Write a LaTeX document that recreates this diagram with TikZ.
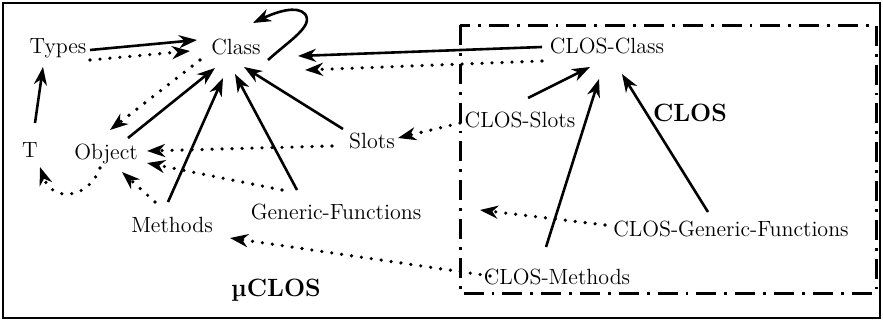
\documentclass[tikz,border=0pt]{standalone}
\usetikzlibrary{arrows.meta,calc}
\begin{document}
\begin{tikzpicture}[x=0.5pt,y=-0.5pt,
  lbl/.style={inner sep=1pt,font=\fontsize{11}{13}\selectfont},
  big/.style={inner sep=1pt,font=\fontsize{12.5}{15}\selectfont\bfseries},
  tip/.style={-{Stealth[length=9pt,width=6.5pt,inset=2.8pt]}},
  solidarr/.style={tip,line width=1.3pt},
  dotarr/.style={tip,line width=1.8pt,line cap=round,dash pattern=on 0pt off 5pt},
  frame/.style={line width=0.8pt},
  clsbox/.style={line width=1.5pt,dash pattern=on 10pt off 4pt on 1.4pt off 4pt}]
\useasboundingbox (0,0) rectangle (883,321);
\draw[frame] (3,3) rectangle (880,318);
\draw[clsbox] (460,25) rectangle (876,293);
% nodes
\node[lbl] (types) at (58,48) {Types};
\node[lbl] (class) at (236,47) {Class};
\node[lbl] (t) at (30,150) {T};
\node[lbl] (object) at (106,154) {Object};
\node[lbl] (methods) at (172,225) {Methods};
\node[lbl] (generic) at (336,212) {Generic-Functions};
\node[lbl] (slots) at (372,141) {Slots};
\node[lbl] (closslots) at (520,120) {CLOS-Slots};
\node[lbl] (closclass) at (607,46) {CLOS-Class};
\node[big] (clos) at (690,113) {CLOS};
\node[lbl] (closgeneric) at (731,229) {CLOS-Generic-Functions};
\node[lbl] (closmethods) at (557,277) {CLOS-Methods};
\node[big] (muclos) at (276,290) {µCLOS};
\coordinate (gfend) at (480,210);
% solid arrows
\draw[solidarr] ($(types)+(32,2)$) -- ($(class)+(-39,-7)$);
\draw[solidarr] ($(t)+(5,-27)$) -- ($(types)+(-15,19)$);
\draw[solidarr] ($(class)+(32,13)$) .. controls (290,40) and (314,26) .. (305,14)
  .. controls (297,5) and (276,12) .. ($(class)+(17,-24)$);
\draw[solidarr] ($(object)+(22,-16)$) -- ($(class)+(-21,21)$);
\draw[solidarr] ($(methods)+(-4,-23)$) -- ($(class)+(-13,31)$);
\draw[solidarr] ($(generic)+(-39,-22)$) -- ($(class)+(-1,27)$);
\draw[solidarr] ($(slots)+(-29,-12)$) -- ($(class)+(8,20)$);
\draw[solidarr] ($(closclass)+(-65,1)$) -- ($(class)+(62,9)$);
\draw[solidarr] ($(closslots)+(8,-22)$) -- ($(closclass)+(-17,21)$);
\draw[solidarr] ($(closmethods)+(-11,-30)$) -- ($(closclass)+(-8,33)$);
\draw[solidarr] ($(closgeneric)+(-23,-17)$) -- ($(closclass)+(15,28)$);
% dotted arrows
\draw[dotarr] ($(types)+(32,12)$) -- ($(class)+(-46,4)$);
\draw[dotarr] ($(class)+(-36,13)$) -- ($(object)+(4,-24)$);
\draw[dotarr] ($(slots)+(-40,5)$) -- ($(object)+(41,-3)$);
\draw[dotarr] ($(generic)+(-54,-22)$) -- ($(object)+(41,9)$);
\draw[dotarr] ($(object)+(-6,14)$) .. controls (88,200) and (52,202) .. ($(t)+(10,17)$);
\draw[dotarr] ($(methods)+(-17,-23)$) -- ($(object)+(16,18)$);
\draw[dotarr] ($(closmethods)+(-67,-1)$) -- ($(methods)+(58,13)$);
\draw[dotarr] ($(closclass)+(-65,15)$) -- ($(class)+(69,23)$);
\draw[dotarr] ($(closslots)+(-60,3)$) -- ($(slots)+(26,-3)$);
\draw[dotarr] ($(closgeneric)+(-126,-4)$) -- (gfend);
\end{tikzpicture}
\end{document}
